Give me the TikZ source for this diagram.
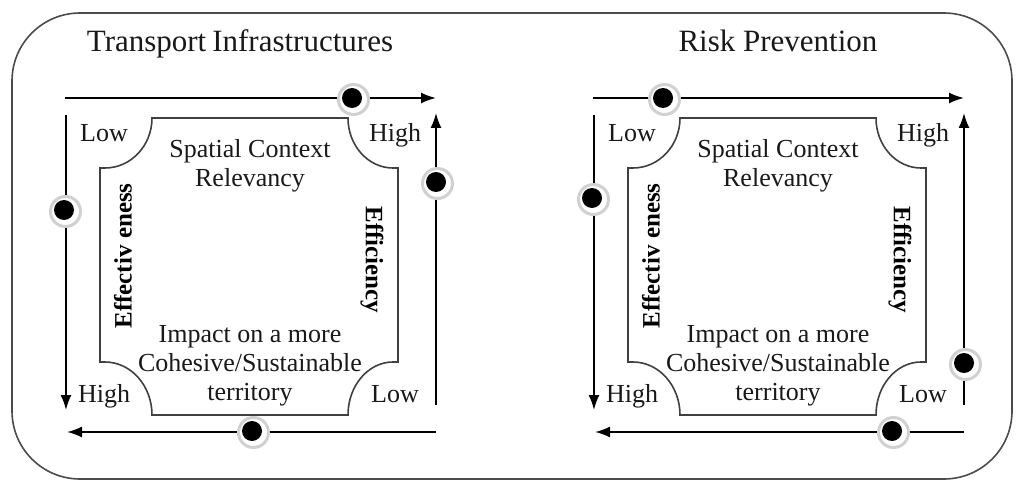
\documentclass[tikz,border=0pt]{standalone}
\usepackage{fontspec}
\setmainfont{Liberation Serif}
\usetikzlibrary{arrows.meta}
\newcommand\mydot[3]{%
  \node[halo] (#1-h) at (#2+1.5,#3+1.5) {};
  \node[blackdot] (#1) at (#2,#3) {};}
\newcommand\panelbody[2]{%
  \coordinate (ta) at (65,98);  \coordinate (tb) at (436,98);
  \coordinate (ra) at (436,405); \coordinate (rb) at (436,113);
  \coordinate (la) at (66,115);  \coordinate (lb) at (66,410);
  \coordinate (ba) at (436,432); \coordinate (bb) at (67,432);
  \draw[arr] (ta) -- (tb);
  \draw[arr] (ra) -- (rb);
  \draw[arr] (la) -- (lb);
  \draw[arr] (ba) -- (bb);
  \draw[innerline] (152,118) -- (348,118)
     .. controls (348,145.6) and (368.2,168) .. (393,168) -- (398,168)
     -- (398,362) -- (393,362)
     .. controls (368.2,362) and (348,385.7) .. (348,415)
     -- (152,415)
     .. controls (152,385.7) and (130.9,362) .. (105,362) -- (100,362)
     -- (100,168) -- (105,168)
     .. controls (130.9,168) and (152,145.6) .. (152,118) -- cycle;
  \node[ttl, anchor=base] (title) at (#1,52) {#2};
  \node[lbl, anchor=base] (lowTL) at (104,142) {Low};
  \node[lbl, anchor=base] (highTR) at (395,142) {High};
  \node[lbl, anchor=base] (highBL) at (104,402) {High};
  \node[lbl, anchor=base] (lowBR) at (395,402) {Low};
  \node[lbl, align=center] (spatial) at (250,166) {Spatial Context\\Relevancy};
  \node[lbl, align=center] (impact) at (250,366) {Impact on a more\\Cohesive/Sustainable\\territory};
  \node[side, rotate=90] (effect) at (123,256) {Effectiv eness};
  \node[side, rotate=-90] (effic) at (372,260) {Efficiency};
}
\begin{document}
\begin{tikzpicture}[x=1pt,y=-1pt,
  arr/.style={line width=1.9pt, -{Latex[length=15pt,width=11pt]}},
  innerline/.style={draw=black!75, line width=1.6pt},
  outerline/.style={draw=black!70, line width=1.6pt, rounded corners=68pt},
  lbl/.style={font=\fontsize{26}{29}\selectfont, inner sep=0pt, text=black!90},
  ttl/.style={font=\fontsize{31}{34}\selectfont, inner sep=0pt, text=black!90},
  side/.style={font=\fontsize{25}{28}\selectfont\bfseries, inner sep=0pt},
  halo/.style={circle, fill=white, draw=black!18, line width=3pt, minimum size=30pt, inner sep=0pt},
  blackdot/.style={circle, fill=black, minimum size=20pt, inner sep=0pt}]
\useasboundingbox (0,0) rectangle (1017,481);
\fill[white] (0,0) rectangle (1017,481);
\draw[outerline] (12,13) rectangle (1012,479);
\begin{scope}[name prefix=L-]
  \panelbody{240}{Transport\hspace{6pt}Infrastructures}
  \mydot{dtop}{352}{98}
  \mydot{dright}{436}{182}
  \mydot{dleft}{64}{210}
  \mydot{dbottom}{252}{431}
\end{scope}
\begin{scope}[shift={(528,0)}, name prefix=R-]
  \panelbody{250}{Risk Prevention}
  \mydot{dtop}{135}{98}
  \mydot{dright}{436}{363}
  \mydot{dleft}{64}{198}
  \mydot{dbottom}{364}{431}
\end{scope}
\end{tikzpicture}
\end{document}
